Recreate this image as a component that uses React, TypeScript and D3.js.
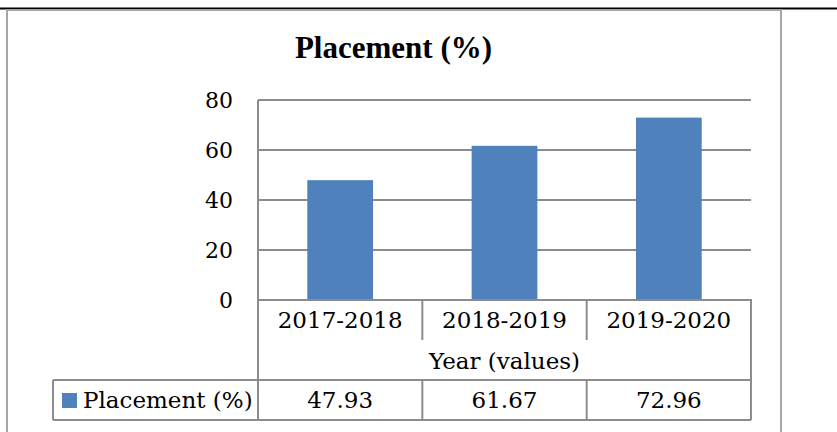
import React, { useEffect, useRef } from 'react';
import * as d3 from 'd3';

const categories = ['2017-2018', '2018-2019', '2019-2020'];
const placement = [47.93, 61.67, 72.96];
const yTicks = [0, 20, 40, 60, 80];
const seriesName = 'Placement (%)';
const axisTitle = 'Year (values)';
const chartTitle = 'Placement (%)';

const App = () => {
    const chartRef = useRef<SVGSVGElement>(null);

    useEffect(() => {
        drawChart();
    }, []);

    const drawChart = () => {
        const width = 837;
        const height = 432;
        const plot = { left: 258, right: 751, top: 100, bottom: 300 };
        const rowH = 40;
        const legendLeft = 53;
        const font = '"DejaVu Serif", serif';
        const gridColor = '#8c8c8c';
        const barColor = '#4f81bd';

        const svg = d3.select(chartRef.current);
        svg.selectAll('*').remove();
        svg.attr('width', width).attr('height', height);

        // page rule and frame
        svg.append('line')
            .attr('x1', 0).attr('x2', 837).attr('y1', 8.5).attr('y2', 8.5)
            .attr('stroke', '#000').attr('stroke-width', 2);
        svg.append('rect')
            .attr('x', 7).attr('y', 10).attr('width', 774).attr('height', 440)
            .attr('fill', '#fff').attr('stroke', '#a6a6a6').attr('stroke-width', 2);

        svg.append('text')
            .attr('x', 393.5).attr('y', 58)
            .attr('text-anchor', 'middle')
            .attr('font-family', '"Liberation Serif", serif')
            .attr('font-weight', 'bold')
            .attr('font-size', 31)
            .text(chartTitle);

        const x = d3.scaleBand()
            .domain(categories)
            .range([plot.left, plot.right]);

        const y = d3.scaleLinear()
            .domain([0, 80])
            .range([plot.bottom, plot.top]);

        // gridlines
        svg.selectAll('.grid')
            .data(yTicks.filter(t => t > 0))
            .enter().append('line')
            .attr('x1', plot.left).attr('x2', plot.right)
            .attr('y1', d => y(d)).attr('y2', d => y(d))
            .attr('stroke', gridColor).attr('stroke-width', 2);

        svg.selectAll('.bar')
            .data(placement)
            .enter().append('rect')
            .attr('x', (d, i) => x(categories[i])! + x.bandwidth() * 0.3)
            .attr('width', x.bandwidth() * 0.4)
            .attr('y', d => y(d))
            .attr('height', d => y(0) - y(d))
            .attr('fill', barColor);

        const yAxis = svg.append('g')
            .attr('transform', `translate(${plot.left},0)`)
            .call(d3.axisLeft(y).tickValues(yTicks).tickSize(0).tickPadding(25));
        yAxis.select('.domain').remove();
        yAxis.selectAll('text')
            .attr('font-family', font)
            .attr('font-size', 22)
            .attr('fill', '#000');

        // data table
        const t0 = plot.bottom;
        const t1 = t0 + rowH;
        const t2 = t1 + rowH;
        const t3 = t2 + rowH;
        const line = (x1: number, y1: number, x2: number, y2: number) =>
            svg.append('line')
                .attr('x1', x1).attr('y1', y1).attr('x2', x2).attr('y2', y2)
                .attr('stroke', gridColor).attr('stroke-width', 2);

        line(plot.left, plot.top, plot.left, t3);
        line(plot.right, t0, plot.right, t3);
        line(legendLeft, t2, plot.right, t2);
        line(legendLeft, t3, plot.right, t3);
        line(legendLeft, t2, legendLeft, t3);
        categories.slice(1).forEach(c => {
            line(x(c)!, t0, x(c)!, t1);
            line(x(c)!, t2, x(c)!, t3);
        });
        line(plot.left - 1, t0, plot.right + 1, t0);

        svg.selectAll('.cat')
            .data(categories)
            .enter().append('text')
            .attr('x', d => x(d)! + x.bandwidth() / 2)
            .attr('y', t0 + 28)
            .attr('text-anchor', 'middle')
            .attr('font-family', font).attr('font-size', 23)
            .text(d => d);

        svg.append('text')
            .attr('x', (plot.left + plot.right) / 2)
            .attr('y', t1 + 29)
            .attr('text-anchor', 'middle')
            .attr('font-family', font).attr('font-size', 23)
            .text(axisTitle);

        svg.selectAll('.val')
            .data(placement)
            .enter().append('text')
            .attr('x', (d, i) => x(categories[i])! + x.bandwidth() / 2)
            .attr('y', t2 + 28)
            .attr('text-anchor', 'middle')
            .attr('font-family', font).attr('font-size', 23)
            .text(d => d.toFixed(2));

        svg.append('rect')
            .attr('x', 62).attr('y', t2 + 13).attr('width', 15).attr('height', 15)
            .attr('fill', barColor);
        svg.append('text')
            .attr('x', 83).attr('y', t2 + 28)
            .attr('font-family', font).attr('font-size', 23)
            .text(seriesName);
    };

    return (
        <svg ref={chartRef} style={{ position: 'absolute', left: 0, top: 0 }}></svg>
    );
};

export default App;
